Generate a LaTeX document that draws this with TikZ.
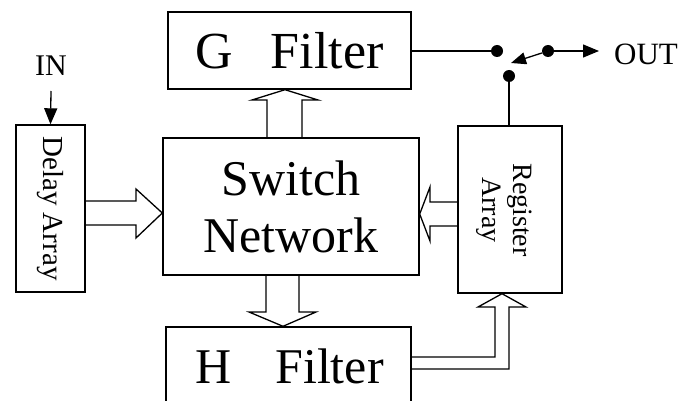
\documentclass[tikz,border=0pt]{standalone}
\usepackage{fontspec}
\setmainfont{Liberation Serif}
\usetikzlibrary{arrows.meta,calc}
\begin{document}
\begin{tikzpicture}[x=1pt,y=-1pt,
  box/.style={draw, line width=1.4pt, inner sep=0pt},
  txt/.style={inner sep=0pt},
  wire/.style={line width=1.3pt},
  blk/.style={draw, line width=1.3pt, line join=miter},
  dot/.style={circle, fill, inner sep=0pt, minimum size=12pt},
  tipb/.style={-{Triangle[length=16pt,width=13pt]}}]
\useasboundingbox (0,0) rectangle (685,401);
\begin{scope}
\clip (0,0) rectangle (685,401);
% boxes
\node[box, minimum width=243pt, minimum height=77pt,
      font=\fontsize{52}{60}\selectfont] (G) at (289.5,50.5) {G\hspace{38pt}Filter};
\node[box, minimum width=256pt, minimum height=137pt, align=center,
      font=\fontsize{50}{57}\selectfont] (SW) at (291,206.5) {Switch\\Network};
\node[box, minimum width=69pt, minimum height=167pt] (DA) at (50.5,208.5) {};
\node[box, minimum width=104pt, minimum height=167pt] (RA) at (510,209.5) {};
\node[box, minimum width=245pt, minimum height=100pt] (H) at (288.5,377) {};
% texts
\node[txt, rotate=-90, font=\fontsize{29}{33}\selectfont] (DAt) at (DA.center) {Delay Array};
\node[txt, rotate=-90, align=center, font=\fontsize{28}{31}\selectfont] (RAt) at (504,210) {Register\\Array};
\node[txt, anchor=base, font=\fontsize{50}{57}\selectfont] (Ht) at (289.5,383) {H\hspace{44pt}Filter};
\node[txt, anchor=base, font=\fontsize{30}{34}\selectfont] (IN) at (51,76) {IN};
\node[txt, anchor=base west, font=\fontsize{31}{35}\selectfont] (OUT) at (614,65) {OUT};
% switch dots
\node[dot] (d1) at (497,51) {};
\node[dot] (d2) at (548,51) {};
\node[dot] (d3) at (509,76) {};
\coordinate (inA) at (51,91);
\coordinate (outA) at (599,51);
\coordinate (arm) at (511,63);
% wires
\draw[wire] (G.east |- d1) -- (d1);
\draw[wire] (d3) -- (d3 |- RA.north);
\draw[wire, tipb] (d2) -- (outA);
\draw[wire, -{Triangle[length=15pt,width=12pt]}] (d2) -- (arm);
\draw[wire, tipb] (inA) -- (DA.north);
% block arrows
\draw[blk] (DA.east |- 0,201) -- (136,201) -- (136,189) -- (SW.west |- 0,213)
  -- (136,238) -- (136,225) -- (DA.east |- 0,225);
\draw[blk] (267,0 |- SW.north) -- (267,100) -- (252,100) -- (285,0 |- G.south)
  -- (318,100) -- (302,100) -- (302,0 |- SW.north);
\draw[blk] (266,0 |- SW.south) -- (266,312) -- (249,312) -- (283,0 |- H.north)
  -- (316,312) -- (299,312) -- (299,0 |- SW.south);
\draw[blk] (RA.west |- 0,202) -- (430,202) -- (430,187) -- (SW.east |- 0,214)
  -- (430,241) -- (430,226) -- (RA.west |- 0,226);
\draw[blk] (H.east |- 0,357) -- (495,357) -- (495,307) -- (478,307)
  -- (502,0 |- RA.south) -- (526,307) -- (509,307) -- (509,369) -- (H.east |- 0,369);
\end{scope}
\end{tikzpicture}
\end{document}
